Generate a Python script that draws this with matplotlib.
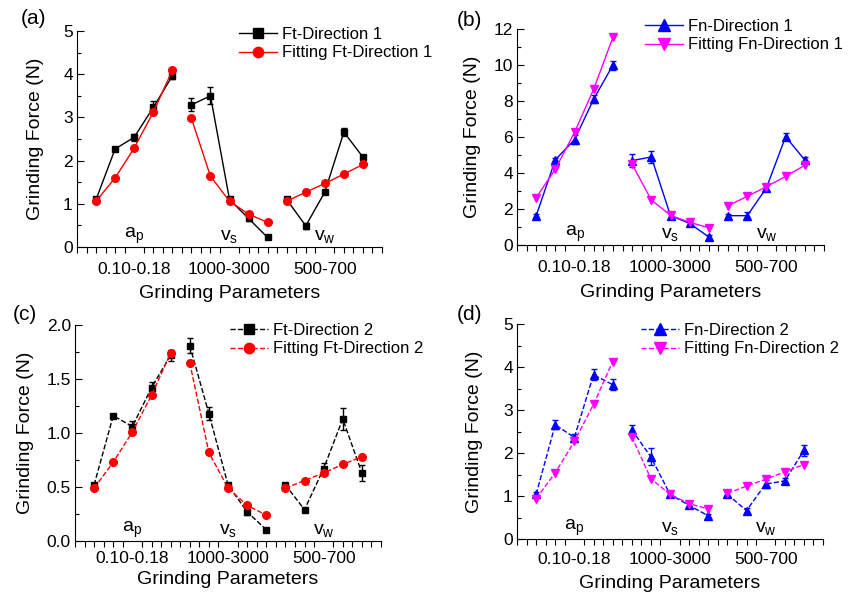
import numpy as np
import matplotlib.pyplot as plt
from matplotlib.lines import Line2D
from matplotlib.ticker import MultipleLocator, FixedLocator
import matplotlib.transforms as mtrans

plt.rcParams['font.family'] = ['Liberation Sans', 'DejaVu Sans']
plt.rcParams['mathtext.fontset'] = 'custom'
plt.rcParams['mathtext.rm'] = 'Liberation Sans'
plt.rcParams['mathtext.it'] = 'Liberation Sans:italic'

# 3 parameter groups, 5 levels each -> positions 1..15
GROUP_TICKS = ['0.10-0.18', '1000-3000', '500-700']
GROUP_NAMES = [r'a$_\mathrm{p}$', r'v$_\mathrm{s}$', r'v$_\mathrm{w}$']
GROUP_POS = [[1, 2, 3, 4, 5], [6, 7, 8, 9, 10], [11, 12, 13, 14, 15]]

# (a) tangential force, direction 1
ft1 = [1.10, 2.27, 2.54, 3.23, 3.96, 3.29, 3.50, 1.10, 0.66, 0.22, 1.10, 0.49, 1.27, 2.66, 2.08]
ft1_err = [0.05, 0.03, 0.08, 0.15, 0.08, 0.15, 0.20, 0.05, 0.05, 0.02, 0.05, 0.07, 0.05, 0.10, 0.06]
ft1_fit = [1.06, 1.60, 2.29, 3.12, 4.09, 2.98, 1.64, 1.06, 0.76, 0.57, 1.06, 1.27, 1.47, 1.69, 1.91]

# (b) normal force, direction 1
fn1 = [1.63, 4.74, 5.85, 8.11, 10.0, 4.69, 4.89, 1.63, 1.20, 0.44, 1.63, 1.63, 3.17, 6.02, 4.72]
fn1_err = [0.10, 0.10, 0.25, 0.20, 0.25, 0.35, 0.35, 0.10, 0.10, 0.10, 0.10, 0.20, 0.15, 0.20, 0.15]
fn1_fit = [2.63, 4.22, 6.26, 8.67, 11.54, 4.48, 2.50, 1.65, 1.26, 0.96, 2.19, 2.70, 3.24, 3.81, 4.43]

# (c) tangential force, direction 2
ft2 = [0.52, 1.16, 1.06, 1.42, 1.72, 1.81, 1.18, 0.52, 0.27, 0.105, 0.52, 0.29, 0.67, 1.13, 0.63]
ft2_err = [0.02, 0.02, 0.05, 0.05, 0.05, 0.07, 0.06, 0.02, 0.03, 0.02, 0.02, 0.02, 0.05, 0.10, 0.07]
ft2_fit = [0.49, 0.73, 1.01, 1.35, 1.74, 1.65, 0.82, 0.49, 0.33, 0.24, 0.49, 0.56, 0.63, 0.71, 0.78]

# (d) normal force, direction 2
fn2 = [1.04, 2.66, 2.36, 3.82, 3.59, 2.54, 1.91, 1.04, 0.78, 0.54, 1.04, 0.66, 1.28, 1.35, 2.06]
fn2_err = [0.05, 0.10, 0.08, 0.13, 0.12, 0.10, 0.20, 0.05, 0.05, 0.05, 0.05, 0.05, 0.10, 0.07, 0.12]
fn2_fit = [0.94, 1.54, 2.27, 3.13, 4.12, 2.38, 1.40, 1.04, 0.82, 0.70, 1.06, 1.23, 1.39, 1.56, 1.73]

W, H = 859, 598
fig = plt.figure(figsize=(W / 100, H / 100), dpi=100)


def px_axes(l, t, r, b):
    return fig.add_axes([l / W, 1 - b / H, (r - l) / W, (b - t) / H])


def panel(ax, meas, err, fit, c1, c2, m1, m2, ms1, ms2, ls, labels, ymax, ymaj, ymin, fmt,
          leg_xy, tpad, xlpad, ylx):
    for g, pos in enumerate(GROUP_POS):
        sl = slice(5 * g, 5 * g + 5)
        ax.errorbar(pos, meas[sl], yerr=err[sl], color=c1, marker=m1, ms=ms1, ls=ls,
                    lw=1.0, elinewidth=1.0, capsize=2.5, capthick=1.0, zorder=3)
        ax.plot(pos, fit[sl], color=c2, marker=m2, ms=ms2, ls=ls, lw=1.0, zorder=4)
    ax.set_xlim(0, 16)
    ax.set_ylim(0, ymax)
    for s in ['top', 'right']:
        ax.spines[s].set_visible(False)
    ax.xaxis.set_major_locator(FixedLocator([3, 8, 13]))
    ax.set_xticklabels(GROUP_TICKS)
    ax.xaxis.set_minor_locator(MultipleLocator(0.5))
    ax.tick_params(axis='x', which='major', length=0, pad=tpad, labelsize=12.5)
    ax.tick_params(axis='x', which='minor', direction='out', length=4, width=0.8)
    ax.yaxis.set_major_locator(MultipleLocator(ymaj))
    ax.yaxis.set_minor_locator(MultipleLocator(ymin))
    ax.yaxis.set_major_formatter(fmt)
    ax.tick_params(axis='y', which='major', direction='in', length=5, width=0.8, labelsize=12.5, pad=3)
    ax.tick_params(axis='y', which='minor', direction='in', length=3, width=0.8)
    ax.set_xlabel('Grinding Parameters', fontsize=14, labelpad=xlpad)
    ax.set_ylabel('Grinding Force (N)', fontsize=14)
    ax.yaxis.set_label_coords(ylx, 0.5)
    tr = mtrans.blended_transform_factory(ax.transData, ax.transAxes)
    for x, name in zip([3, 8, 13], GROUP_NAMES):
        ax.text(x, 0.05, name, transform=tr, ha='center', va='center', fontsize=14)
    handles = [Line2D([], [], color=c1, marker=m1, ms=ms1 * 1.35, ls=ls, lw=1.0),
               Line2D([], [], color=c2, marker=m2, ms=ms2 * 1.35, ls=ls, lw=1.0)]
    ax.legend(handles, labels, loc='upper left', bbox_to_anchor=(leg_xy[0] / W, 1 - leg_xy[1] / H),
              bbox_transform=fig.transFigure, frameon=False, borderpad=0, borderaxespad=0,
              handlelength=2.3, handletextpad=0.3, labelspacing=0.2, fontsize=12)


ax_a = px_axes(77, 31, 382, 247)
ax_b = px_axes(517, 29, 824, 245)
ax_c = px_axes(75, 325, 381, 541)
ax_d = px_axes(517, 324, 823, 539)

int_fmt = '{x:.0f}'
panel(ax_a, ft1, ft1_err, ft1_fit, 'black', 'red', 's', 'o', 5, 5.5, '-',
      ['Ft-Direction 1', 'Fitting Ft-Direction 1'], 5, 1, 0.5, int_fmt, (239, 27),
      10.5, 6, -0.108)
panel(ax_b, fn1, fn1_err, fn1_fit, 'blue', 'magenta', '^', 'v', 6, 6, '-',
      ['Fn-Direction 1', 'Fitting Fn-Direction 1'], 12, 2, 1, int_fmt, (645, 19),
      10.5, 7, -0.117)
panel(ax_c, ft2, ft2_err, ft2_fit, 'black', 'red', 's', 'o', 5, 5.5, '--',
      ['Ft-Direction 2', 'Fitting Ft-Direction 2'], 2, 0.5, 0.25, '{x:.1f}', (230, 323),
      7.5, 3.3, -0.134)
panel(ax_d, fn2, fn2_err, fn2_fit, 'blue', 'magenta', '^', 'v', 6, 6, '--',
      ['Fn-Direction 2', 'Fitting Fn-Direction 2'], 5, 1, 0.5, int_fmt, (641, 323),
      9, 6, -0.111)

for lab, x, y in [('(a)', 21, 18), ('(b)', 457, 20), ('(c)', 13, 315), ('(d)', 457, 315)]:
    fig.text(x / W, 1 - y / H, lab, fontsize=15, ha='left', va='center')

fig.savefig('out.png', dpi=100)
